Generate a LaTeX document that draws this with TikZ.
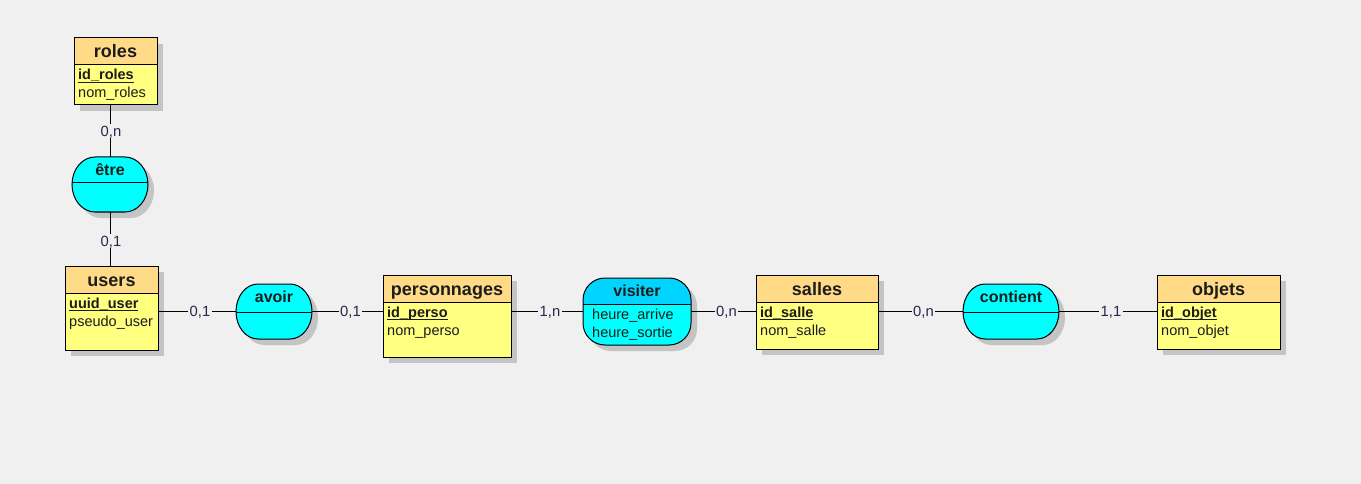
\documentclass[tikz,border=0pt]{standalone}
\usepackage{fontspec}
\setmainfont{Liberation Sans}
\definecolor{bg}{HTML}{F0F0F0}
\definecolor{shgray}{HTML}{C4C4C4}
\definecolor{enthead}{HTML}{FFDB88}
\definecolor{entbody}{HTML}{FFFF80}
\definecolor{ascyan}{HTML}{00FFFF}
\definecolor{vishead}{HTML}{00D4FF}
\definecolor{txt}{HTML}{1C1C1C}
\definecolor{lbl}{HTML}{28284A}
\newcommand\keyu[1]{\setbox0=\hbox{\bfseries #1}\rlap{\rule[-3pt]{\wd0}{1.3pt}}\box0}
% name x y w h title key attr
\newcommand\ent[8]{%
 \fill[shgray] (#2+6,#3+6) rectangle (#2+#4+6,#3+#5+6);
 \node[entbox, minimum width=#4pt, minimum height=#5pt] (#1) at (#2,#3) {};
 \fill[enthead] (#2,#3) rectangle (#2+#4,#3+27);
 \draw[line width=1pt] (#1.north west) rectangle (#1.south east);
 \draw[line width=1pt] (#2,#3+27) -- (#2+#4,#3+27);
 \node[etitle] (#1-t) at (#2+#4/2,#3+20) {#6};
 \node[eattr] (#1-k) at (#2+4,#3+42) {\keyu{#7}};
 \node[eattr] (#1-a) at (#2+4,#3+60) {#8};
}
% x y w h rx ry
\newcommand\apath[6]{(#1+#5,#2) -- (#1+#3-#5,#2)
 arc[start angle=270,end angle=360,x radius=#5,y radius=#6] -- (#1+#3,#2+#4-#6)
 arc[start angle=0,end angle=90,x radius=#5,y radius=#6] -- (#1+#5,#2+#4)
 arc[start angle=90,end angle=180,x radius=#5,y radius=#6] -- (#1,#2+#6)
 arc[start angle=180,end angle=270,x radius=#5,y radius=#6] -- cycle}
% name x y w h rx ry div title
\newcommand\assoc[9]{%
 \fill[shgray, xshift=6pt, yshift=-6pt] \apath{#2}{#3}{#4}{#5}{#6}{#7};
 \node[asbox, minimum width=#4pt, minimum height=#5pt] (#1) at (#2,#3) {};
 \fill[ascyan] \apath{#2}{#3}{#4}{#5}{#6}{#7};
 \draw[line width=1pt] (#2,#8) -- (#2+#4,#8);
 \node[atitle] (#1-t) at (#2+#4/2,#3+18.5) {#9};
}
\begin{document}
\begin{tikzpicture}[x=1pt,y=-1pt,
  entbox/.style={inner sep=0pt, outer sep=0pt, anchor=north west, fill=entbody},
  asbox/.style={inner sep=0pt, outer sep=0pt, anchor=north west},
  etitle/.style={anchor=base, inner sep=0pt, text=txt, font=\bfseries\fontsize{18}{21}\selectfont},
  atitle/.style={anchor=base, inner sep=0pt, text=txt, font=\bfseries\fontsize{16}{19}\selectfont},
  eattr/.style={anchor=base west, inner sep=0pt, text=txt, font=\fontsize{14.5}{17}\selectfont},
  card/.style={fill=bg, inner sep=1.5pt, text depth=0pt, text=lbl, font=\fontsize{14.8}{17}\selectfont},
  conn/.style={line width=1pt, black}]
\fill[bg] (0,0) rectangle (1361,484);
\useasboundingbox (0,0) rectangle (1361,484);

% entities
\ent{roles}{74}{38}{83}{67}{roles}{id\_roles}{nom\_roles}
\ent{users}{65}{266}{93}{84}{users}{uuid\_user}{pseudo\_user}
\ent{perso}{383}{275}{128}{82}{personnages}{id\_perso}{nom\_perso}
\ent{salles}{756}{275}{122}{74}{salles}{id\_salle}{nom\_salle}
\ent{objets}{1157}{275}{123}{74}{objets}{id\_objet}{nom\_objet}

% associations
\assoc{etre}{72}{157}{76}{55}{23}{27.5}{183}{être}
\draw[line width=1pt] \apath{72}{157}{76}{55}{23}{27.5};
\assoc{avoir}{236}{284}{76}{55}{22}{27.5}{312}{avoir}
\draw[line width=1pt] \apath{236}{284}{76}{55}{22}{27.5};
\assoc{contient}{963}{284}{96}{55}{22}{27.5}{312}{contient}
\draw[line width=1pt] \apath{963}{284}{96}{55}{22}{27.5};
% visiter with darker header
\fill[shgray, xshift=6pt, yshift=-6pt] \apath{583}{278}{108}{67}{22}{22};
\node[asbox, minimum width=108pt, minimum height=67pt] (visiter) at (583,278) {};
\fill[ascyan] \apath{583}{278}{108}{67}{22}{22};
\begin{scope}
 \clip (580,275) rectangle (695,304);
 \fill[vishead] \apath{583}{278}{108}{67}{22}{22};
\end{scope}
\draw[line width=1pt] (583,304) -- (691,304);
\draw[line width=1pt] \apath{583}{278}{108}{67}{22}{22};
\node[atitle] (visiter-t) at (637,296.5) {visiter};
\node[eattr] (visiter-a1) at (592,319) {heure\_arrive};
\node[eattr] (visiter-a2) at (592,337) {heure\_sortie};

% connectors
\draw[conn] (roles.south -| etre.north) -- node[card, xshift=1pt] (c1) {0,n} (etre.north);
\draw[conn] (etre.south) -- node[card, xshift=1pt, yshift=-2pt] (c2) {0,1} (users.north -| etre.south);
\draw[conn] (users.east |- avoir.center) -- node[card, xshift=3pt] (c3) {0,1} (avoir.west |- avoir.center);
\draw[conn] (avoir.east |- avoir.center) -- node[card, xshift=3pt] (c4) {0,1} (perso.west |- avoir.center);
\draw[conn] (perso.east |- visiter.center) -- node[card, xshift=3pt] (c5) {1,n} (visiter.west |- visiter.center);
\draw[conn] (visiter.east |- visiter.center) -- node[card, xshift=3pt] (c6) {0,n} (salles.west |- visiter.center);
\draw[conn] (salles.east |- contient.center) -- node[card, xshift=3pt] (c7) {0,n} (contient.west |- contient.center);
\draw[conn] (contient.east |- contient.center) -- node[card, xshift=3pt] (c8) {1,1} (objets.west |- contient.center);
\end{tikzpicture}
\end{document}
